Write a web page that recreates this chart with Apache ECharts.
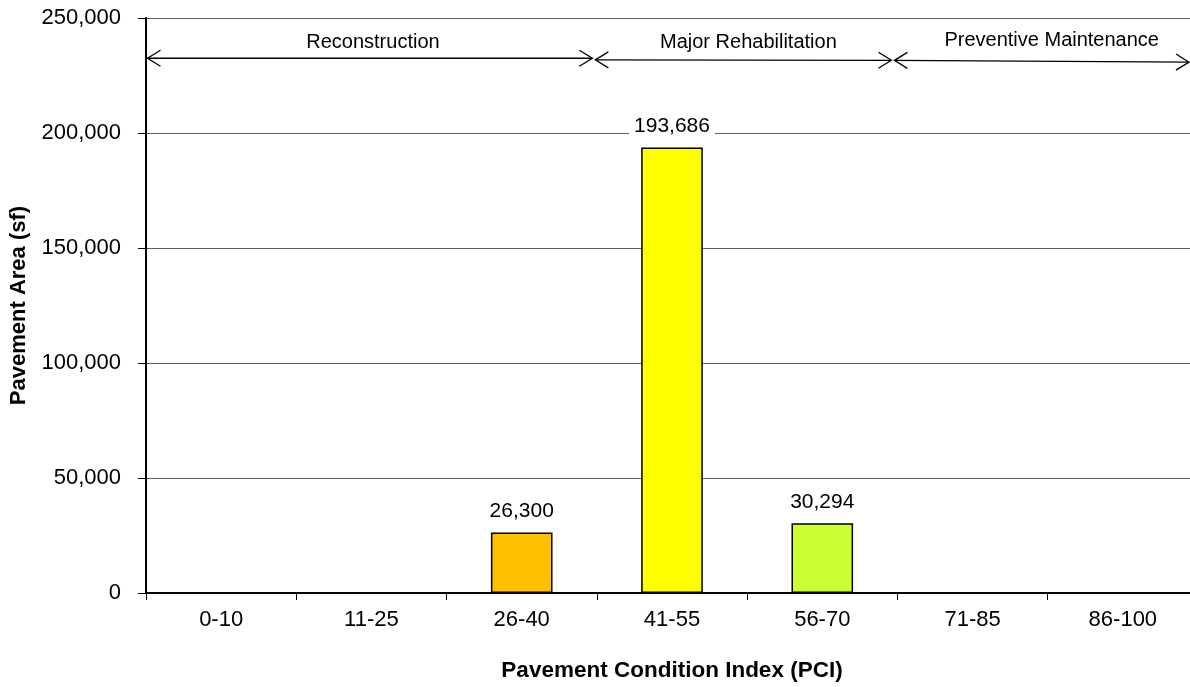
<!DOCTYPE html>
<html>
<head>
<meta charset="utf-8">
<script src="https://cdn.jsdelivr.net/npm/echarts@6/dist/echarts.min.js"></script>
<style>
  html, body { margin: 0; padding: 0; background: #fff; overflow: hidden; }
  /* plot area runs a little past the right edge of the window, as in the original */
  #chart { width: 1198px; height: 687px; }
</style>
</head>
<body>
<div id="chart"></div>
<script>
// PCI ranges and the area in each
const categories = ['0-10', '11-25', '26-40', '41-55', '56-70', '71-85', '86-100']
const areaValues = [0, 0, 26300, 193686, 30294, 0, 0]
const barColors = ['#ff0000', '#ff6600', '#ffc000', '#ffff00', '#ccff33', '#66ff33', '#00b050']

// treatment bands over the categories (in category widths, 0..7)
const bandNames = ['Reconstruction', 'Major Rehabilitation', 'Preventive Maintenance']
const bandStart = [0, 2.98, 4.97]
const bandEnd = [2.98, 4.97, 6.95]
const bandLevelStart = [232500, 231800, 231600]
const bandLevelEnd = [232500, 231600, 230800]

const yTicks = { min: 0, max: 250000, interval: 50000 }

const fontFamily = '"Liberation Sans", Arial, sans-serif'
const fmt = v => Number(v).toLocaleString('en-US')

// small nudges of the band titles, px
const bandLabelDx = [3, 5, 10]
const bandLabelDy = [-16, -18, -21]

const myChart = echarts.init(document.getElementById('chart'))

function chevron (tip, ux, uy) {
  // open arrow head, tip at the end of the span, pointing along (ux, uy)
  const len = 13
  const half = 8
  const bx = tip[0] - ux * len
  const by = tip[1] - uy * len
  return [[bx - uy * half, by + ux * half], tip, [bx + uy * half, by - ux * half]]
}

function renderBand (params, api) {
  const i = params.dataIndex
  const p0 = api.coord([api.value(0), api.value(2)])
  const p1 = api.coord([api.value(1), api.value(3)])
  const dx = p1[0] - p0[0]
  const dy = p1[1] - p0[1]
  const d = Math.sqrt(dx * dx + dy * dy)
  const ux = dx / d
  const uy = dy / d
  const gap = 1.5
  const a = [p0[0] + ux * gap, p0[1] + uy * gap]
  const b = [p1[0] - ux * gap, p1[1] - uy * gap]
  const lineStyle = { stroke: '#000', lineWidth: 1.3, fill: null }
  return {
    type: 'group',
    children: [
      { type: 'line', shape: { x1: a[0], y1: a[1], x2: b[0], y2: b[1] }, style: lineStyle },
      { type: 'polyline', shape: { points: chevron(a, -ux, -uy) }, style: lineStyle },
      { type: 'polyline', shape: { points: chevron(b, ux, uy) }, style: lineStyle },
      {
        type: 'text',
        style: {
          text: bandNames[i],
          x: (a[0] + b[0]) / 2 + bandLabelDx[i],
          y: (a[1] + b[1]) / 2 + bandLabelDy[i],
          align: 'center',
          verticalAlign: 'middle',
          fill: '#000',
          fontSize: 20,
          fontFamily: fontFamily
        }
      }
    ]
  }
}

const option = {
  animation: false,
  backgroundColor: '#fff',
  textStyle: { fontFamily: fontFamily },
  grid: {
    left: 146,
    right: 0,
    top: 18,
    bottom: 93
  },
  xAxis: [
    {
      type: 'category',
      data: categories,
      name: 'Pavement Condition Index (PCI)',
      nameLocation: 'middle',
      nameGap: 66,
      nameTextStyle: { fontSize: 22.5, fontWeight: 'bold', color: '#000', fontFamily: fontFamily },
      axisLine: { show: true, lineStyle: { color: '#000', width: 2 } },
      axisTick: { show: true, length: 7, interval: 0, lineStyle: { color: '#000', width: 1 } },
      axisLabel: { interval: 0, margin: 16, fontSize: 22, color: '#000', fontFamily: fontFamily },
      splitLine: { show: false }
    },
    {
      // hidden helper axis for the treatment bands
      type: 'value',
      min: 0,
      max: 7,
      show: false
    }
  ],
  yAxis: {
    type: 'value',
    min: yTicks.min,
    max: yTicks.max,
    interval: yTicks.interval,
    name: 'Pavement Area (sf)',
    nameLocation: 'middle',
    nameGap: 116,
    nameTextStyle: { fontSize: 22, fontWeight: 'bold', color: '#000', fontFamily: fontFamily },
    axisLine: { show: true, lineStyle: { color: '#000', width: 2 } },
    axisTick: { show: true, length: 8, lineStyle: { color: '#000', width: 1 } },
    axisLabel: { margin: 25, fontSize: 22, color: '#000', fontFamily: fontFamily, formatter: fmt },
    splitLine: { show: true, lineStyle: { color: '#5e5e5e', width: 1 } }
  },
  series: [
    {
      name: 'Pavement Area',
      type: 'bar',
      xAxisIndex: 0,
      yAxisIndex: 0,
      barWidth: '41%',
      data: areaValues.map((v, i) => ({
        value: v,
        itemStyle: { color: barColors[i], borderColor: '#000', borderWidth: 1.5 }
      })),
      label: {
        show: true,
        position: 'top',
        distance: 9,
        fontSize: 21,
        color: '#000',
        fontFamily: fontFamily,
        backgroundColor: '#fff',
        padding: [2, 5],
        formatter: p => (p.value ? fmt(p.value) : '')
      }
    },
    {
      name: 'bands',
      type: 'custom',
      xAxisIndex: 1,
      yAxisIndex: 0,
      clip: false,
      silent: true,
      encode: { x: [0, 1], y: [2, 3] },
      renderItem: renderBand,
      data: bandNames.map((n, i) => [bandStart[i], bandEnd[i], bandLevelStart[i], bandLevelEnd[i]])
    }
  ]
}

myChart.setOption(option)
</script>
</body>
</html>
